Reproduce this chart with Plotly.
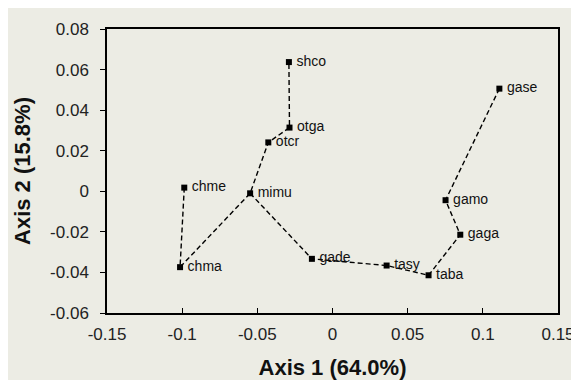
import plotly.graph_objects as go

names = ["shco", "otga", "otcr", "mimu", "chme", "chma", "gade", "tasy", "taba", "gaga", "gamo", "gase"]
axis1 = [-0.029, -0.0286, -0.0427, -0.0548, -0.0986, -0.1014, -0.0137, 0.036, 0.0639, 0.085, 0.0752, 0.111]
axis2 = [0.0637, 0.0314, 0.0241, -0.001, 0.0018, -0.0374, -0.0333, -0.0366, -0.0414, -0.0214, -0.0044, 0.0506]

path_a = ["chme", "chma", "mimu", "otcr", "otga", "shco"]
path_b = ["mimu", "gade", "tasy", "taba", "gaga", "gamo", "gase"]

xticks = [-0.15, -0.1, -0.05, 0, 0.05, 0.1, 0.15]
xticklabels = ["-0.15", "-0.1", "-0.05", "0", "0.05", "0.1", "0.15"]
yticks = [-0.06, -0.04, -0.02, 0, 0.02, 0.04, 0.06, 0.08]
yticklabels = ["-0.06", "-0.04", "-0.02", "0", "0.02", "0.04", "0.06", "0.08"]

idx = {n: i for i, n in enumerate(names)}

fig = go.Figure()
for path in (path_a, path_b):
    fig.add_trace(go.Scatter(
        x=[axis1[idx[n]] for n in path],
        y=[axis2[idx[n]] for n in path],
        mode="lines",
        line=dict(color="black", width=1.4, dash="5px,3px"),
        hoverinfo="skip", showlegend=False,
    ))
fig.add_trace(go.Scatter(
    x=axis1, y=axis2, mode="markers+text",
    marker=dict(symbol="square", size=6, color="black"),
    text=["\u2009" + n for n in names], textposition="middle right",
    textfont=dict(family="Arial, Liberation Sans", size=14, color="#111"),
    showlegend=False,
))

fig.update_layout(
    width=579, height=380,
    margin=dict(l=99, r=19, t=18, b=74),
    paper_bgcolor="#ecece4", plot_bgcolor="#ecece4",
    font=dict(family="Arial, Liberation Sans", color="#222"),
)
fig.update_xaxes(
    range=[-0.15, 0.15], tickvals=xticks, ticktext=xticklabels,
    ticks="inside", ticklen=5, tickcolor="black",
    showline=True, linecolor="black", linewidth=1.5, mirror=True,
    showgrid=False, zeroline=False, ticklabelstandoff=5,
    tickfont=dict(size=17, color="#222"),
    title=dict(text="<b>Axis 1 (64.0%)</b>", font=dict(size=22, color="#111"), standoff=16),
)
fig.update_yaxes(
    range=[-0.06, 0.08], tickvals=yticks, ticktext=yticklabels,
    ticks="outside", ticklen=5, tickcolor="black",
    showline=True, linecolor="black", linewidth=1.5, mirror=True,
    showgrid=False, zeroline=False, ticklabelstandoff=8,
    tickfont=dict(size=17, color="#222"),
    title=dict(text="<b>Axis 2 (15.8%)</b>", font=dict(size=22, color="#111"), standoff=13),
)
fig.write_html("out.html")
